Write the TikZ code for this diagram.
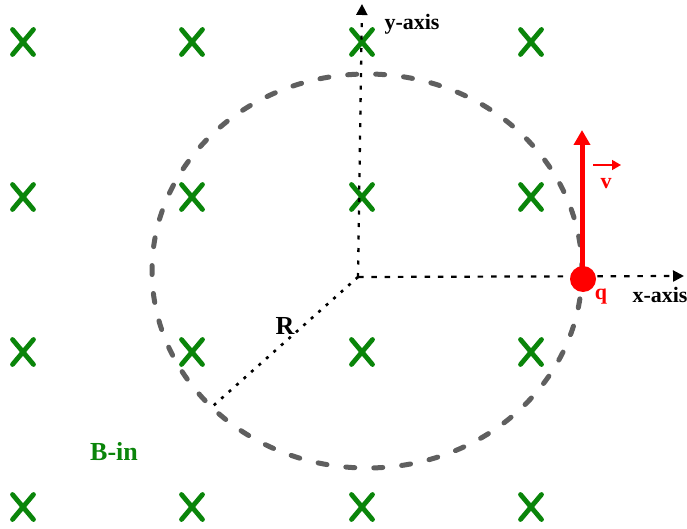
\documentclass[tikz,border=0pt]{standalone}
\usepackage{fontspec}
\setmainfont{Liberation Serif}
\usetikzlibrary{arrows.meta}
\definecolor{bgreen}{HTML}{0A850A}
\definecolor{dgray}{HTML}{5F5F5F}
\tikzset{
  cross/.style={draw=bgreen, line width=4.8pt, line cap=round},
  orbit/.style={draw=dgray, line width=5pt, line cap=round, dash pattern=on 9pt off 19pt},
  yaxisline/.style={draw=black, line width=2.3pt, dash pattern=on 4pt off 8.5pt, -{Triangle[length=11pt,width=11pt]}},
  xaxisline/.style={draw=black, line width=2.2pt, dash pattern=on 5.5pt off 7.8pt, -{Triangle[length=11pt,width=11pt]}},
  radline/.style={draw=black, line width=2.6pt, dash pattern=on 3pt off 7pt},
  lbl/.style={font=\fontsize{22}{24}\selectfont\bfseries, inner sep=0pt},
  biglbl/.style={font=\fontsize{26}{28}\selectfont\bfseries, inner sep=0pt},
}
\begin{document}
\begin{tikzpicture}[x=1pt,y=-1pt]
\useasboundingbox (0,0) rectangle (687,529);
% field crosses (B into the page)
\foreach \cx in {23,192,362,531}{
  \foreach \cy in {42,197,352,507}{
    \draw[cross] (\cx-10.5,\cy-12.5) -- (\cx+10.5,\cy+12.5)
                 (\cx-10.5,\cy+12.5) -- (\cx+10.5,\cy-12.5);
  }
}
% circular orbit
\coordinate (C) at (367,271);
\draw[orbit] (C) ellipse [x radius=215, y radius=197];
% axes
\coordinate (O) at (358,277);
\coordinate (Ytip) at (362,4);
\coordinate (Xtip) at (684,276);
\coordinate (Rend) at (213,406);
\draw[yaxisline] (O) -- (Ytip);
\draw[xaxisline] (O) -- (Xtip);
\draw[radline] (O) -- (Rend);
% labels
\node[lbl] (ylab) at (412,24) {y-axis};
\node[lbl] (xlab) at (660,295) {x-axis};
\node[biglbl] (rlab) at (285,326) {R};
\node[biglbl, text=bgreen] (blab) at (114,452) {B-in};
% charge and velocity
\node[circle, fill=red, minimum width=26pt, minimum height=24pt, inner sep=0pt] (q) at (583,279) {};
\coordinate (vtip) at (582,130);
\draw[red, line width=5pt, -{Triangle[length=15pt,width=16pt]}] (582,279) -- (vtip);
\node[lbl, text=red] (qlab) at (601,297) {q};
\node[lbl, text=red] (vlab) at (606,184) {v};
\coordinate (va) at (593,165);
\coordinate (vb) at (621,165);
\draw[red, line width=1.6pt, -{Triangle[length=9pt,width=10pt]}] (va) -- (vb);
\end{tikzpicture}
\end{document}
